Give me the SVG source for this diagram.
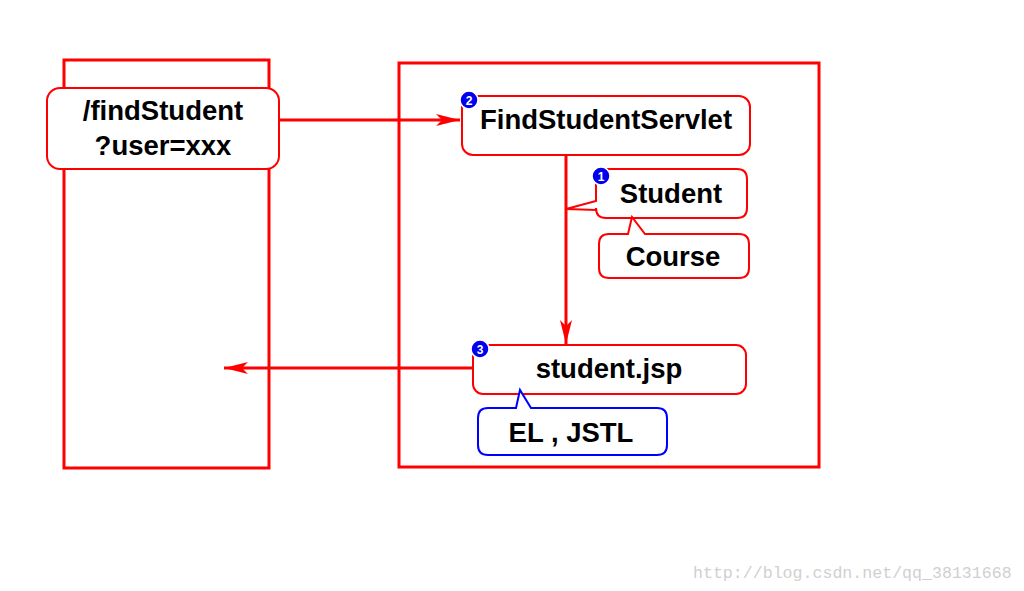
<svg xmlns="http://www.w3.org/2000/svg" width="1024" height="591" viewBox="0 0 1024 591">
<style>
.frame{fill:none;stroke:#ff0000;stroke-width:3}
.box{fill:#fff;stroke:#ff0000;stroke-width:2}
.bbox{fill:#fff;stroke:#0000ff;stroke-width:2}
.t{font-family:"Liberation Sans",Arial,sans-serif;font-weight:bold;font-size:27.5px;fill:#000;text-anchor:middle}
.line{stroke:#ff0000;stroke-width:3;fill:none}
.badge{fill:#0000ee;stroke:#fff;stroke-width:1.5}
.bn{font-family:"Liberation Sans",Arial,sans-serif;font-weight:bold;font-size:12px;fill:#fff;text-anchor:middle}
.wm{font-family:"Liberation Mono",monospace;font-size:16.6px;fill:#d0d0d0}
</style>
<defs>
<marker id="ah" markerWidth="26" markerHeight="12" refX="24" refY="6" orient="auto" markerUnits="userSpaceOnUse">
<path d="M0,0 L24,6 L0,12 L6,6 Z" fill="#ff0000"/>
</marker>
</defs>
<rect width="1024" height="591" fill="#fff"/>
<g id="client-frame"><rect class="frame" x="64" y="60" width="205" height="408"/></g>
<g id="server-frame"><rect class="frame" x="399" y="63" width="420" height="404"/></g>
<g id="connectors">
<line class="line" x1="280" y1="120" x2="460" y2="120" marker-end="url(#ah)"/>
<line class="line" x1="566" y1="155" x2="566" y2="344" marker-end="url(#ah)"/>
<line class="line" x1="473" y1="368" x2="224" y2="368" marker-end="url(#ah)"/>
</g>
<g id="request">
<rect class="box" x="47" y="88" width="232" height="81" rx="13"/>
<text class="t" x="163" y="120">/findStudent</text>
<text class="t" x="163" y="155">?user=xxx</text>
</g>
<g id="servlet">
<rect class="box" x="462" y="96" width="288" height="59" rx="11"/>
<text class="t" x="606" y="129">FindStudentServlet</text>
<circle class="badge" cx="469" cy="100" r="9"/>
<text class="bn" x="469" y="104.5">2</text>
</g>
<g id="student">
<path class="box" d="M606,169 H737 Q747,169 747,179 V208 Q747,218 737,218 H606 Q596,218 596,208 V210 L566,209 L596,201 V179 Q596,169 606,169 Z"/>
<text class="t" x="671" y="203">Student</text>
<circle class="badge" cx="601" cy="176" r="9"/>
<text class="bn" x="601" y="180.5">1</text>
</g>
<g id="course">
<path class="box" d="M609,234 H628 L632,217 L645,234 H739 Q749,234 749,244 V268 Q749,278 739,278 H609 Q599,278 599,268 V244 Q599,234 609,234 Z"/>
<text class="t" x="673" y="266">Course</text>
</g>
<g id="jsp">
<rect class="box" x="473" y="345" width="273" height="49" rx="10"/>
<text class="t" x="609" y="378">student.jsp</text>
<circle class="badge" cx="480" cy="349" r="9"/>
<text class="bn" x="480" y="353.5">3</text>
</g>
<g id="el-jstl">
<path class="bbox" d="M488,408 H516 L520,390 L531,408 H657 Q667,408 667,418 V445 Q667,455 657,455 H488 Q478,455 478,445 V418 Q478,408 488,408 Z"/>
<text class="t" x="571" y="442">EL , JSTL</text>
</g>
<text class="wm" x="693" y="578">http://blog.csdn.net/qq_38131668</text>
</svg>
